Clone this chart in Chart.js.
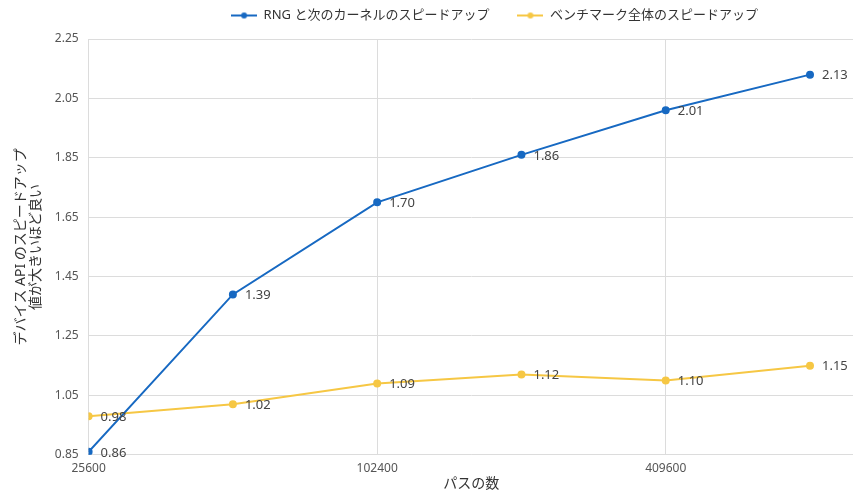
<!DOCTYPE html>
<html>
<head>
<meta charset="utf-8">
<script src="https://cdn.jsdelivr.net/npm/chart.js@4/dist/chart.umd.min.js"></script>
<style>
  html, body { margin: 0; padding: 0; background: #fff; overflow: hidden; }
  #wrap { width: 860px; height: 494px; }
</style>
</head>
<body>
<div id="wrap"><canvas id="speedupChart"></canvas></div>
<script>
const pathCounts = [25600, 51200, 102400, 204800, 409600, 819200];
const xTickValues = [25600, 102400, 409600];
const yTickValues = [0.85, 1.05, 1.25, 1.45, 1.65, 1.85, 2.05, 2.25];
const rngSpeedup = [0.86, 1.39, 1.70, 1.86, 2.01, 2.13];
const benchSpeedup = [0.98, 1.02, 1.09, 1.12, 1.10, 1.15];
const seriesNames = ['RNG と次のカーネルのスピードアップ', 'ベンチマーク全体のスピードアップ'];

const FONT = "'Noto Sans', 'Noto Sans CJK JP', sans-serif";
const BLUE = '#1769c2';
const YELLOW = '#f6c744';

// little "line with a dot" legend marker
function legendMarker(color) {
  const c = document.createElement('canvas');
  c.width = 26; c.height = 10;
  const g = c.getContext('2d');
  g.strokeStyle = color;
  g.lineWidth = 2;
  g.beginPath(); g.moveTo(0, 5); g.lineTo(26, 5); g.stroke();
  g.fillStyle = color;
  g.beginPath(); g.arc(13, 5, 3, 0, Math.PI * 2); g.fill();
  return c;
}

// value labels right of each point
const valueLabels = {
  id: 'valueLabels',
  afterDatasetsDraw(chart) {
    const ctx = chart.ctx;
    ctx.save();
    ctx.font = '13px ' + FONT;
    ctx.fillStyle = '#444';
    ctx.textAlign = 'left';
    ctx.textBaseline = 'middle';
    chart.data.datasets.forEach((ds, i) => {
      chart.getDatasetMeta(i).data.forEach((pt, j) => {
        ctx.fillText(ds.data[j].y.toFixed(2), pt.x + 12, pt.y + 1);
      });
    });
    ctx.restore();
  }
};

// the legend in the original sits a bit right of centre and higher up
const legendNudge = {
  id: 'legendNudge',
  afterLayout(chart) {
    const lg = chart.legend;
    if (!lg) return;
    lg.left += 58; lg.right += 58;
    lg.top -= 7; lg.bottom -= 7;
  }
};

function toPoints(values) {
  return values.map((v, i) => ({ x: pathCounts[i], y: v }));
}

const ctx = document.getElementById('speedupChart').getContext('2d');
new Chart(ctx, {
  type: 'line',
  data: {
    datasets: [{
      label: seriesNames[0],
      data: toPoints(rngSpeedup),
      borderColor: BLUE,
      backgroundColor: BLUE,
      borderWidth: 2,
      pointRadius: 3,
      pointStyle: 'circle',
      tension: 0
    }, {
      label: seriesNames[1],
      data: toPoints(benchSpeedup),
      borderColor: YELLOW,
      backgroundColor: YELLOW,
      borderWidth: 2,
      pointRadius: 3,
      pointStyle: 'circle',
      tension: 0
    }]
  },
  options: {
    responsive: true,
    maintainAspectRatio: false,
    animation: false,
    layout: { padding: { top: -12, right: 0, left: 13, bottom: 2 } },
    plugins: {
      tooltip: { enabled: false },
      legend: {
        position: 'top',
        labels: {
          usePointStyle: true,
          pointStyleWidth: 26,
          boxWidth: 26,
          boxHeight: 10,
          padding: 28,
          color: '#333',
          font: { family: FONT, size: 13 },
          generateLabels(chart) {
            return chart.data.datasets.map((ds, i) => ({
              text: ds.label,
              pointStyle: legendMarker(ds.borderColor),
              fillStyle: ds.borderColor,
              strokeStyle: ds.borderColor,
              lineWidth: 0,
              fontColor: '#333',
              datasetIndex: i
            }));
          }
        }
      }
    },
    scales: {
      x: {
        type: 'logarithmic',
        min: 25600,
        max: 1012000,
        afterBuildTicks(axis) {
          axis.ticks = xTickValues.map(v => ({ value: v }));
        },
        ticks: {
          color: '#555',
          font: { family: FONT, size: 12 },
          maxRotation: 0,
          padding: 7,
          callback: v => String(v)
        },
        grid: { color: '#dcdcdc', drawTicks: false },
        border: { color: '#dcdcdc' },
        title: {
          display: true,
          text: 'パスの数',
          color: '#333',
          font: { family: FONT, size: 14 },
          padding: { top: -8, bottom: 0 }
        }
      },
      y: {
        min: 0.85,
        max: 2.25,
        afterBuildTicks(axis) {
          axis.ticks = yTickValues.map(v => ({ value: v }));
        },
        ticks: {
          color: '#555',
          font: { family: FONT, size: 12 },
          padding: 10,
          callback: v => v.toFixed(2)
        },
        grid: { color: '#dcdcdc', drawTicks: false },
        border: { color: '#dcdcdc' },
        title: {
          display: true,
          text: ['デバイス API のスピードアップ', '値が大きいほど良い'],
          color: '#333',
          font: { family: FONT, size: 14, lineHeight: 1.1 },
          padding: { top: 0, bottom: 1 }
        }
      }
    }
  },
  plugins: [valueLabels, legendNudge]
});
</script>
</body>
</html>
